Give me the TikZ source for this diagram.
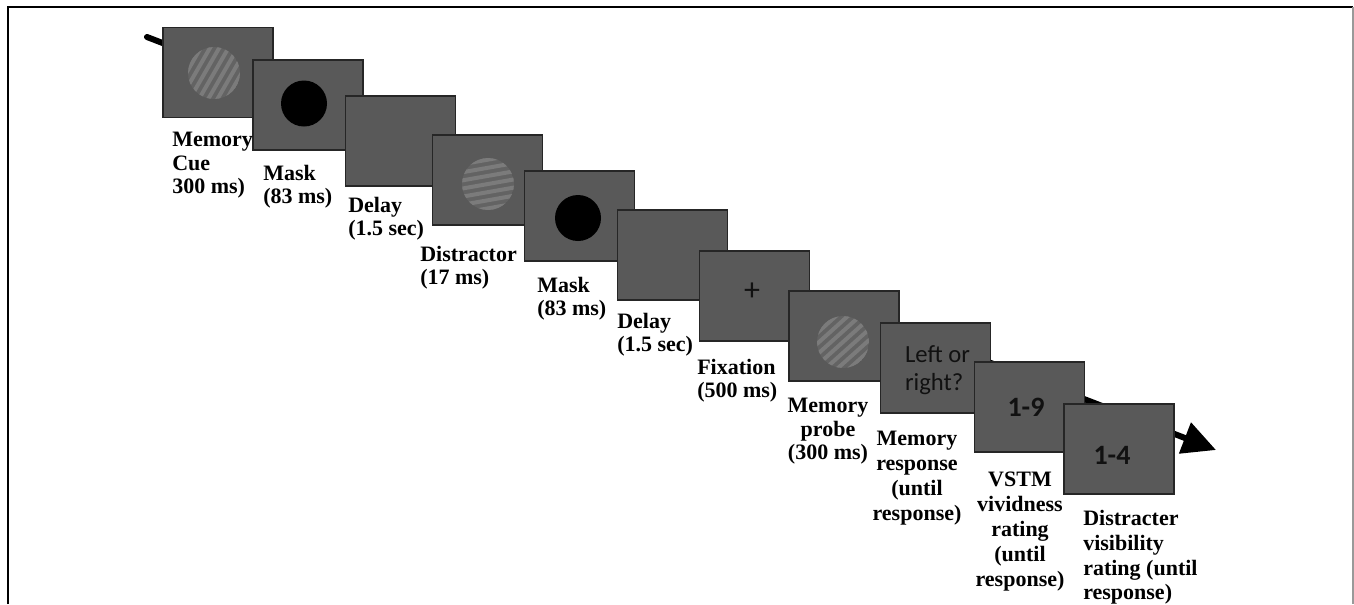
\documentclass[tikz,border=0pt]{standalone}
\usepackage{fontspec}
\setmainfont{Liberation Serif}
\newfontfamily\scrfont{Carlito}
\usepackage{xcolor}
\usetikzlibrary{arrows.meta}

\definecolor{scrgray}{HTML}{595959}
\definecolor{gratbase}{HTML}{636363}
\definecolor{gratstripe}{HTML}{7B7B7B}
\definecolor{scrtext}{HTML}{111111}

% grating patch: x, y, angle of the stripes
\newcommand{\grating}[3]{%
	\begin{scope}
		\clip (#1,#2) circle [radius=19.5pt];
		\fill[gratbase] (#1,#2) circle [radius=19.5pt];
		\foreach \k in {-32,-24,...,32}
			\draw[gratstripe, line width=3pt] ({#1+\k*sin(#3)-40*cos(#3)},{#2+\k*cos(#3)+40*sin(#3)}) -- ({#1+\k*sin(#3)+40*cos(#3)},{#2+\k*cos(#3)-40*sin(#3)});
	\end{scope}}

\tikzset{
	screen/.style={draw=black!85, fill=scrgray, line width=0.9pt, minimum width=82.5pt, minimum height=67.5pt, inner sep=0pt},
	lbl/.style={inner sep=0pt, align=left, anchor=north west, font=\fontsize{16.5}{17.5}\selectfont\bfseries},
	lblc/.style={lbl, align=center, anchor=north},
	lbll/.style={font=\fontsize{16.5}{18.6}\selectfont\bfseries},
	scrtxt/.style={text=scrtext, inner sep=0pt},
	maskdot/.style={fill=black},
	timeline/.style={line width=4.5pt, line cap=round, -{Triangle[length=25pt,width=24pt]}},
}

\begin{document}
\begin{tikzpicture}[x=0.75pt, y=-0.75pt]
		
		\useasboundingbox (0,0) rectangle (1354,604);
		
		% frame
		\draw[black, line width=0.8pt] (8,604) -- (8,7) -- (1353,7);
		\draw[black!40, line width=0.8pt] (1353,7) -- (1353,604);
		
		% time axis behind the screens
		\coordinate (tstart) at (147,37);
		\coordinate (tend) at (1216,450);
		\draw[timeline] (tstart) -- (tend);
		
		% memory cue
		\node[screen] (s1) at (218,72.5) {};
		\grating{214}{73}{60}
		
		% mask
		\node[screen] (s2) at (308,105) {};
		\fill[maskdot] (304,103.5) circle [radius=17.25pt];
		
		% delay
		\node[screen] (s3) at (400.5,141) {};
		
		% distractor
		\node[screen] (s4) at (487.5,180) {};
		\grating{488}{184}{10}
		
		% mask
		\node[screen] (s5) at (579.5,216) {};
		\fill[maskdot] (578,218) circle [radius=17.25pt];
		
		% delay
		\node[screen] (s6) at (672.5,255) {};
		
		% fixation
		\node[screen] (s7) at (754.5,296) {};
		\node[scrtxt, font=\scrfont\fontsize{24}{24}\selectfont] (fix) at (752,292) {+};
		
		% memory probe
		\node[screen] (s8) at (844,336) {};
		\grating{843}{342}{42}
		
		% memory response
		\node[screen] (s9) at (935.5,368) {};
		\node[scrtxt, font=\scrfont\fontsize{18.5}{21}\selectfont, align=left] (ask) at (937.5,370) {Left or\\right?};
		
		% vividness rating
		\node[screen] (s10) at (1029.5,407) {};
		\node[scrtxt, font=\scrfont\bfseries\fontsize{21}{21}\selectfont] (vivid) at (1026,407) {1-9};
		
		% visibility rating
		\node[screen] (s11) at (1119,449) {};
		\node[scrtxt, font=\scrfont\bfseries\fontsize{21}{21}\selectfont] (visib) at (1112,455) {1-4};
		
		% labels
		\node[lbl] (lab1) at (172,132) {Memory\\Cue\\300 ms)};
		\node[lbl] (lab2) at (263,165) {Mask\\(83 ms)};
		\node[lbl] (lab3) at (348,197) {Delay\\(1.5 sec)};
		\node[lbl] (lab4) at (420,246) {Distractor\\(17 ms)};
		\node[lbl] (lab5) at (537,277) {Mask\\(83 ms)};
		\node[lbl] (lab6) at (617,313) {Delay\\(1.5 sec)};
		\node[lbl] (lab7) at (697,359) {Fixation\\(500 ms)};
		\node[lblc] (lab8) at (828,398) {Memory\\probe\\(300 ms)};
		\node[lblc, lbll] (lab9) at (917,431) {Memory\\response\\(until\\response)};
		\node[lblc, lbll] (lab10) at (1020,472) {VSTM\\vividness\\rating\\(until\\response)};
		\node[lbl, lbll] (lab11) at (1083,510) {Distracter\\visibility\\rating (until\\response)};
		
	\end{tikzpicture}
\end{document}
